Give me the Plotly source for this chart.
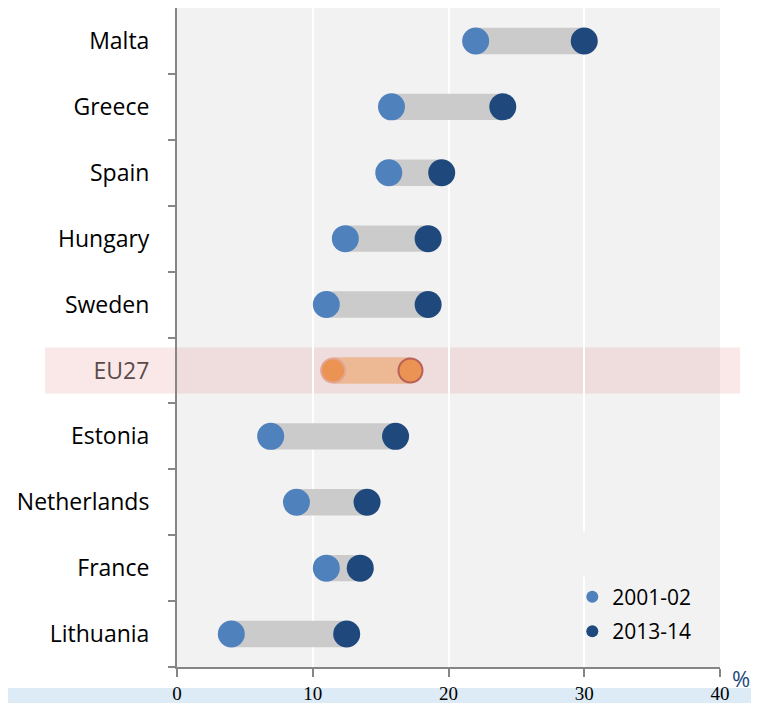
import plotly.graph_objects as go

countries = ["Malta", "Greece", "Spain", "Hungary", "Sweden", "EU27",
             "Estonia", "Netherlands", "France", "Lithuania"]
v_2001 = [22.0, 15.8, 15.6, 12.4, 11.0, 11.5, 6.9, 8.8, 11.0, 4.0]
v_2013 = [30.0, 24.0, 19.5, 18.5, 18.5, 17.2, 16.1, 14.0, 13.5, 12.5]
series_names = ["2001-02", "2013-14"]
x_ticks = [0, 10, 20, 30, 40]
highlight = "EU27"

LIGHT = "#4F81BD"
DARK = "#1F497D"
BAR = "#CBCBCB"
OR_FILL = "#EA9352"
OR_BAR = "#EDB894"

is_h = [c == highlight for c in countries]

fig = go.Figure()

fig.add_trace(go.Bar(
    y=countries, base=v_2001, x=[b - a for a, b in zip(v_2001, v_2013)],
    orientation="h", width=0.4,
    marker=dict(color=[OR_BAR if h else BAR for h in is_h], line=dict(width=0)),
    showlegend=False, hoverinfo="skip"))

norm_c = [c for c, h in zip(countries, is_h) if not h]
norm_a = [v for v, h in zip(v_2001, is_h) if not h]
norm_b = [v for v, h in zip(v_2013, is_h) if not h]
hi_c = [c for c, h in zip(countries, is_h) if h]
hi_a = [v for v, h in zip(v_2001, is_h) if h]
hi_b = [v for v, h in zip(v_2013, is_h) if h]

fig.add_trace(go.Scatter(x=norm_a, y=norm_c, mode="markers", name=series_names[0],
                         legendgroup="a",
                         marker=dict(size=27, color=LIGHT, line=dict(width=0))))
fig.add_trace(go.Scatter(x=norm_b, y=norm_c, mode="markers", name=series_names[1],
                         legendgroup="b",
                         marker=dict(size=27, color=DARK, line=dict(width=0))))
fig.add_trace(go.Scatter(x=hi_a, y=hi_c, mode="markers", showlegend=False,
                         marker=dict(size=24, color=OR_FILL,
                                     line=dict(width=2, color="#E3A696"))))
fig.add_trace(go.Scatter(x=hi_b, y=hi_c, mode="markers", showlegend=False,
                         marker=dict(size=24, color=OR_FILL,
                                     line=dict(width=2, color="#B8605A"))))

ticktext = [f"<span style='color:#5A4B4B'>{c}</span>" if c == highlight else c
            for c in countries]

# page is offset by 8px body margin; figure is 751x695
fig.update_layout(
    width=751, height=695,
    margin=dict(l=169, r=39, t=0, b=36),
    paper_bgcolor="white", plot_bgcolor="#F2F2F2",
    font=dict(family="Open Sans", size=23, color="black"),
    barmode="overlay",
    legend=dict(x=0.728, y=0.137, xanchor="left", yanchor="top",
                bgcolor="rgba(0,0,0,0)", font=dict(size=21),
                itemsizing="constant", tracegroupgap=4, itemwidth=30),
    xaxis=dict(range=[0, 40], tickvals=x_ticks, ticks="outside", ticklen=8,
               tickcolor="#868686", tickwidth=2, showline=True, linecolor="#868686",
               linewidth=2, showgrid=True, gridcolor="white", gridwidth=2,
               zeroline=False, fixedrange=True,
               tickfont=dict(family="Liberation Sans Narrow", size=19)),
    yaxis=dict(categoryorder="array", categoryarray=countries[::-1],
               tickvals=countries, ticktext=ticktext,
               tickson="boundaries", ticks="outside", ticklen=7,
               tickcolor="#868686", tickwidth=2, showline=True,
               linecolor="#868686", linewidth=2, showgrid=False,
               ticklabelstandoff=21, range=[-0.5, 9.5]),
    shapes=[
        dict(type="rect", xref="paper", yref="y", x0=-0.243, x1=1.037,
             y0=4 - 0.35, y1=4 + 0.35, layer="below",
             fillcolor="rgba(230,130,130,0.18)", line=dict(width=0)),
        dict(type="rect", xref="paper", yref="paper", x0=-0.4, x1=1.2,
             y0=-0.032, y1=-0.06, layer="below",
             fillcolor="#DCEBF5", line=dict(width=0)),
        dict(type="rect", xref="x", yref="paper", x0=29.85, x1=30.15,
             y0=0.137, y1=0.206, layer="above",
             fillcolor="#F2F2F2", line=dict(width=0)),
    ],
    annotations=[dict(text="%", xref="paper", yref="paper", x=1.038, y=-0.017,
                      xanchor="center", yanchor="middle", showarrow=False,
                      font=dict(family="Open Sans", size=22, color=DARK))],
)

fig.write_html("out.html")
